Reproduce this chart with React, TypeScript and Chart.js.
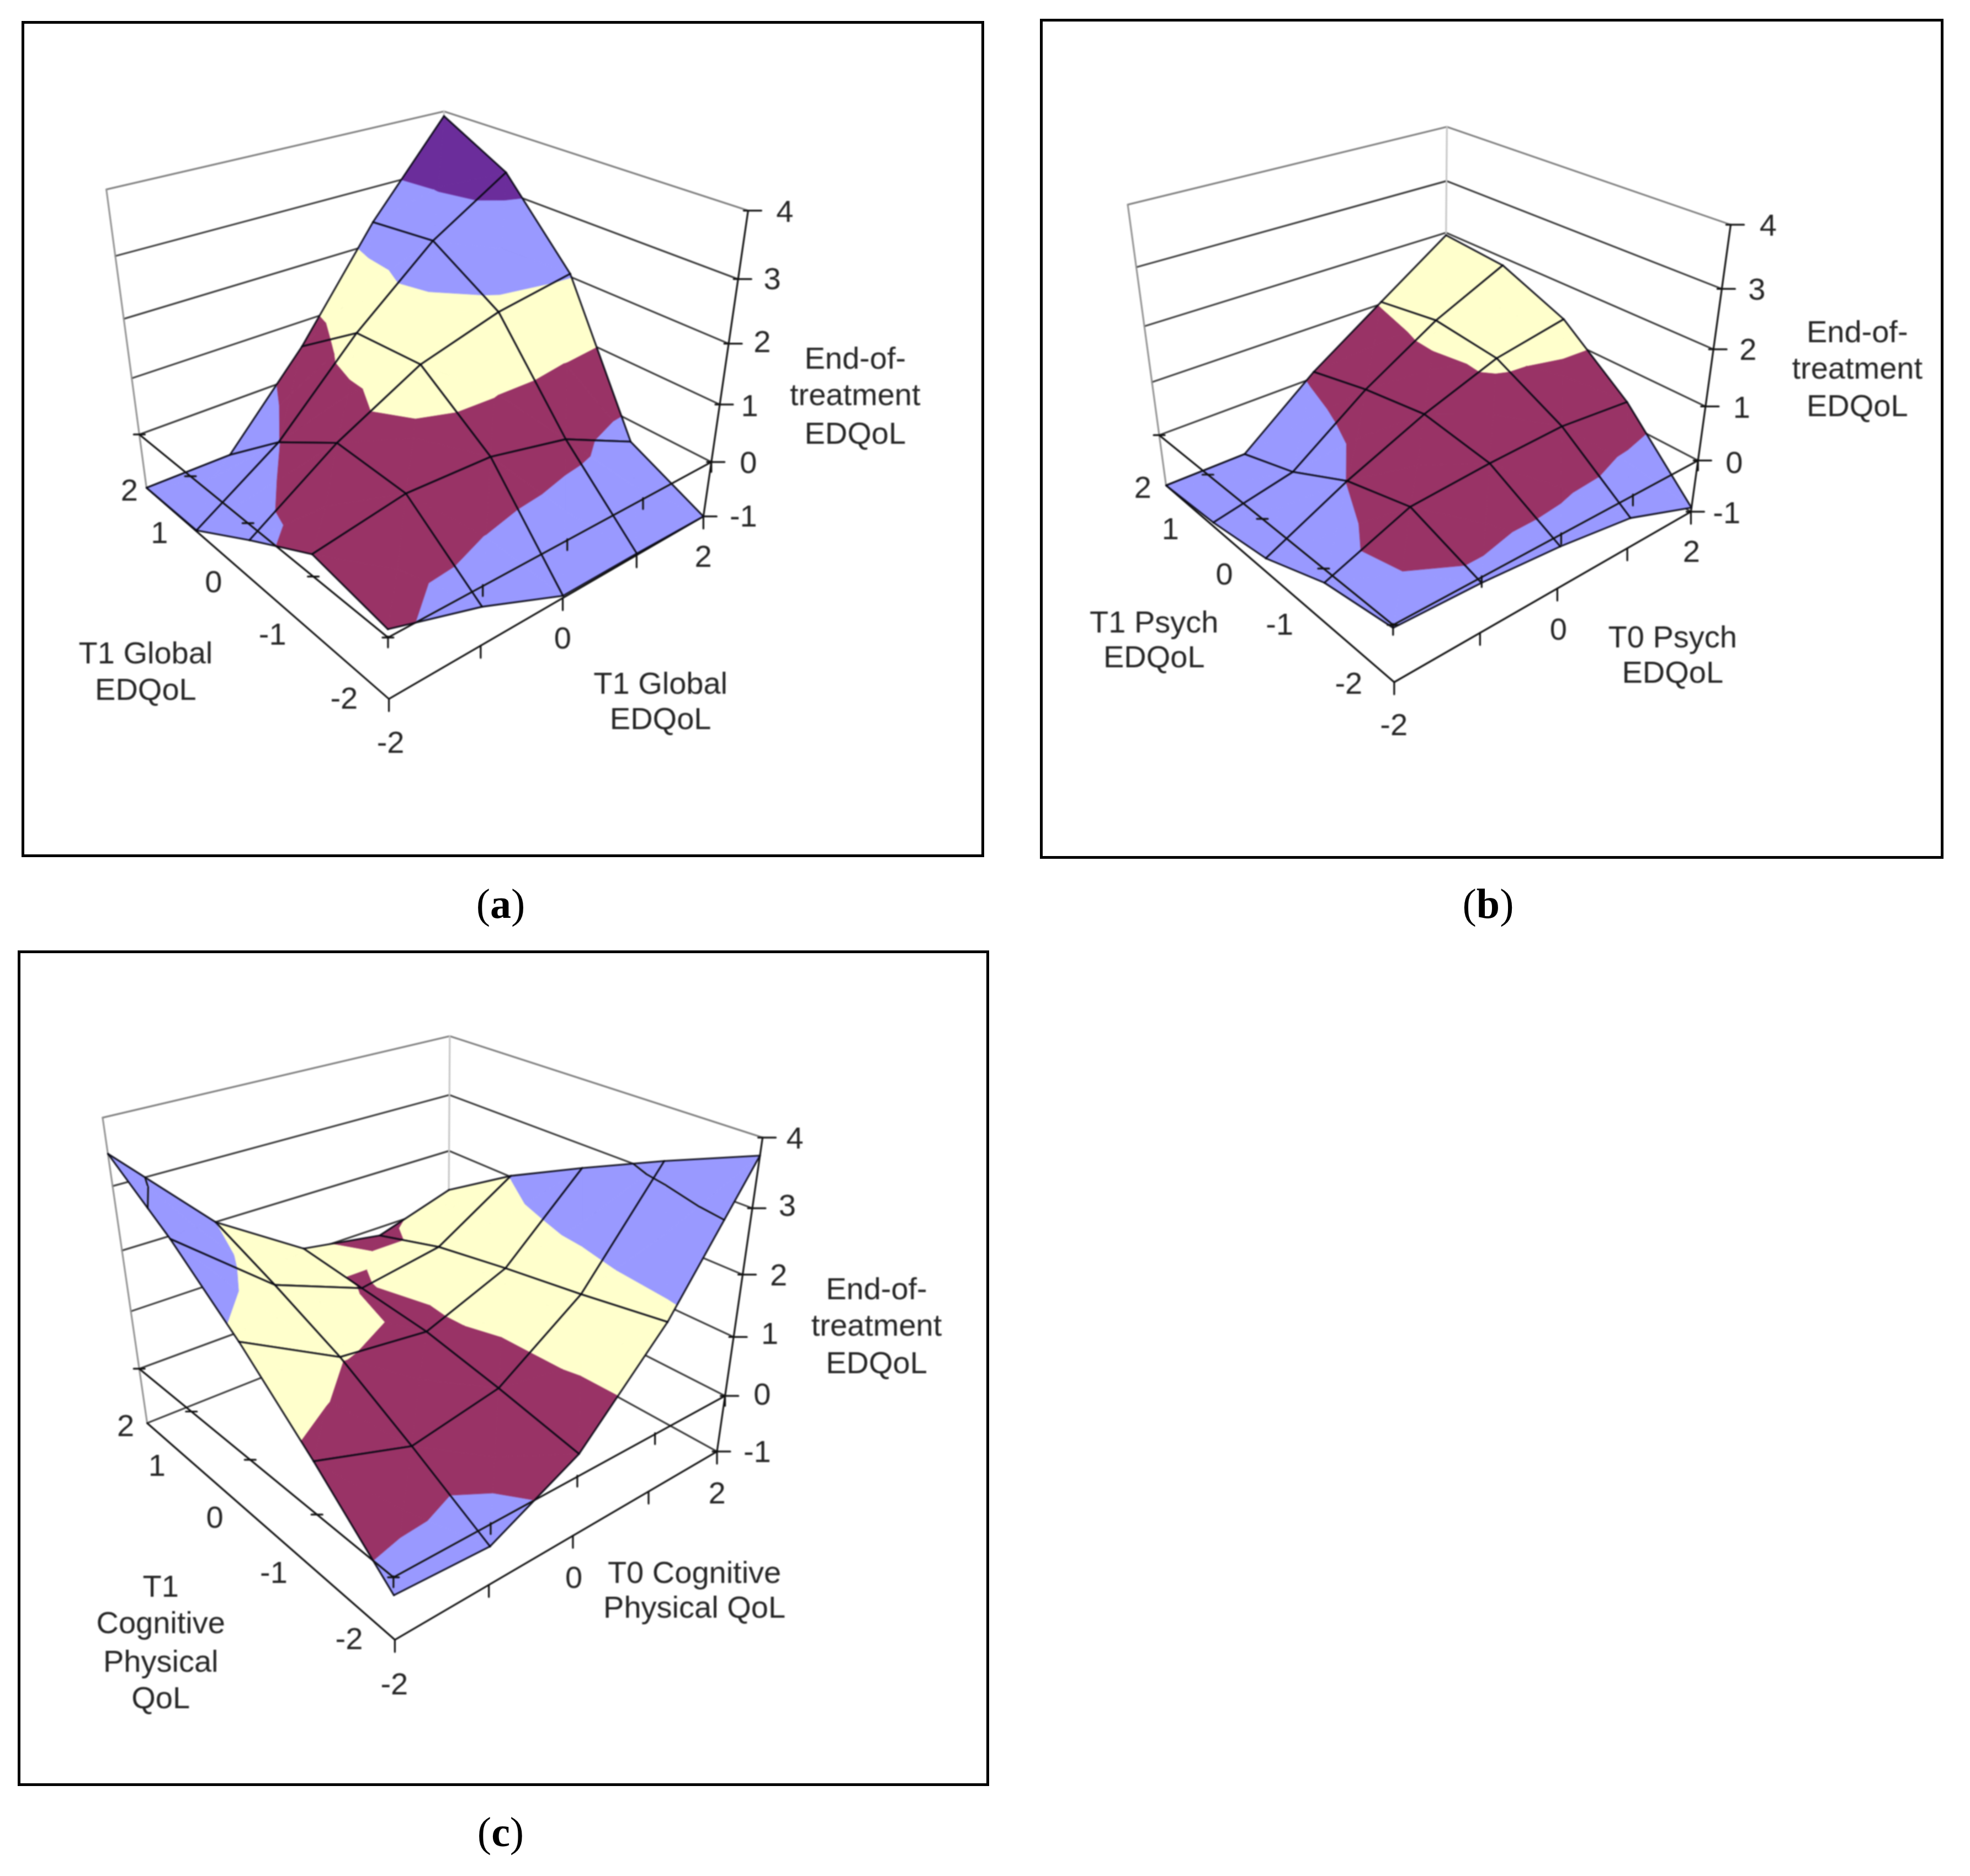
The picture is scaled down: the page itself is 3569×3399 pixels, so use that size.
import React, { useEffect, useRef } from 'react';
import { Chart, registerables } from 'chart.js';
Chart.register(...registerables);

// ---------- data: surface heights, rows = y-axis category, columns = x-axis category ----------
const categoryValues = [-2, -1, 0, 1, 2];
const heightLevels = [-1, 0, 1, 2, 3, 4];

const globalHeights = [
  [0.13, -0.34, -0.96, -0.97, -1],
  [0.36, 0.63, 0.59, 0.28, -0.37],
  [-0.29, 0.7, 1.45, 1.84, 2.05],
  [-0.98, -0.02, 1.38, 2.53, 3.33],
  [-1, -1, 0.54, 2.39, 3.92],
];
const psychHeights = [
  [-0.05, -0.1, -0.22, -0.42, -0.92],
  [-0.25, 0.35, 0.46, 0.52, 0.4],
  [-0.73, 0.01, 0.63, 1.12, 1.36],
  [-0.92, -0.6, 0.42, 1.24, 1.85],
  [-1, -1, 0.12, 1.04, 1.95],
];
const cognitiveHeights = [
  [-0.28, -0.36, 0.37, 1.8, 3.75],
  [0.83, 0.36, 0.64, 1.59, 3.21],
  [1.85, 1.03, 0.87, 1.41, 2.63],
  [2.74, 1.54, 0.97, 1.2, 2.02],
  [3.48, 2.0, 1.08, 0.85, 1.27],
];

const zTickLabels = ['-1', '0', '1', '2', '3', '4'];
const leftTickLabels = ['-2', '-1', '0', '1', '2'];
const rightTickLabels = ['-2', '0', '2'];
const zTitle = ['End-of-', 'treatment', 'EDQoL'];
const titleALeft = ['T1 Global', 'EDQoL'];
const titleARight = ['T1 Global', 'EDQoL'];
const titleBLeft = ['T1 Psych', 'EDQoL'];
const titleBRight = ['T0 Psych', 'EDQoL'];
const titleCLeft = ['T1', 'Cognitive', 'Physical', 'QoL'];
const titleCRight = ['T0 Cognitive', 'Physical QoL'];

// ---------- styles and layout ----------
const PERI = '#9999FF', MAROON = '#993366', CREAM = '#FFFFCC', PURPLE = '#6B2D9B';
const S = 2.275;
const TEXT_DROP = 4;
type XY = [number, number];
const at = (list: XY[]): XY[] => list.map(([x, y]) => [x * S, y * S + TEXT_DROP]);

interface PanelSpec {
  frame: { l: number; t: number; r: number; b: number };
  heights: number[][];
  bands: string[];
  contours: number[];
  corners: XY[]; // floor 00,10,01,11 then top 00,10,01,11
  texts: { text: string; pos: XY }[];
}
const place = (labels: string[], pos: XY[]) => labels.map((text, k) => ({ text, pos: at([pos[k]])[0] }));

// the two box corners hidden behind the surface count for less when fitting the box
const cornerWeights = [1, 1, 1, 0.35, 0.1, 1, 1, 1];

const panels: PanelSpec[] = [
  {
    frame: { l: 39, t: 38, r: 1783, b: 1553 },
    heights: globalHeights,
    bands: [PERI, MAROON, CREAM, PERI, PURPLE],
    contours: [],
    corners: [[704.6, 1266.4], [1274.2, 935.5], [265.1, 883.6], [801.6, 676.3], [696.3, 680.3], [1355.5, 381.3], [193, 343], [804, 201.8]],
    texts: [
      ...place(zTickLabels, [[592, 411], [596, 368], [597, 323], [607, 272], [615, 222], [625, 168]]),
      ...place(leftTickLabels, [[274, 556], [217, 505], [170, 463], [127, 424], [103, 390]]),
      ...place(rightTickLabels, [[311, 591], [448, 508], [560, 443]]),
      ...place(titleALeft, [[116, 520], [116, 549]]),
      ...place(titleARight, [[526, 544], [526, 572]]),
      ...place(zTitle, [[681, 285], [681, 314], [681, 345]]),
    ],
  },
  {
    frame: { l: 1884, t: 34, r: 3521, b: 1556 },
    heights: psychHeights,
    bands: [PERI, MAROON, CREAM, PERI, PURPLE],
    contours: [],
    corners: [[2524.8, 1235.9], [3063.8, 926], [2112.7, 880.1], [2620.2, 681.2], [2518.2, 698.7], [3136, 408], [2043.9, 369.7], [2620.2, 229.7]],
    texts: [
      ...place(zTickLabels, [[1375, 408], [1381, 368], [1387, 324], [1392, 278], [1399, 230], [1408, 179]]),
      ...place(leftTickLabels, [[1074, 544], [1019, 497], [975, 457], [932, 421], [910, 388]]),
      ...place(rightTickLabels, [[1110, 577], [1241, 501], [1347, 439]]),
      ...place(titleBLeft, [[919, 495], [919, 523]]),
      ...place(titleBRight, [[1332, 507], [1332, 535]]),
      ...place(zTitle, [[1479, 264], [1479, 293], [1479, 323]]),
    ],
  },
  {
    frame: { l: 32, t: 1722, r: 1792, b: 3236 },
    heights: cognitiveHeights,
    bands: [PERI, MAROON, CREAM, PERI, PERI],
    contours: [3],
    corners: [[714.6, 2970.4], [1299.1, 2629.9], [266.8, 2579.7], [814, 2356.4], [706.3, 2351.6], [1382.1, 2061.3], [186.4, 2023.8], [814, 1877.9]],
    texts: [
      ...place(zTickLabels, [[603, 1156], [607, 1110], [613, 1062], [620, 1015], [627, 960], [633, 906]]),
      ...place(leftTickLabels, [[278, 1305], [218, 1252], [171, 1208], [125, 1167], [100, 1135]]),
      ...place(rightTickLabels, [[314, 1341], [457, 1256], [571, 1189]]),
      ...place(titleCLeft, [[128, 1263], [128, 1292], [128, 1323], [128, 1352]]),
      ...place(titleCRight, [[553, 1252], [553, 1280]]),
      ...place(zTitle, [[698, 1026], [698, 1055], [698, 1085]]),
    ],
  },
];

const captions = [
  { id: 'a', x: 907, y: 1644 },
  { id: 'b', x: 2696, y: 1644 },
  { id: 'c', x: 907, y: 3326 },
];

// ---------- projection of the 3-D box onto the chart's x/y scales ----------
function fitProjection(corners: XY[]) {
  const lo = categoryValues[0], hi = categoryValues[4];
  const zLo = heightLevels[0], zHi = heightLevels[5];
  const world = [
    [lo, lo, zLo], [hi, lo, zLo], [lo, hi, zLo], [hi, hi, zLo],
    [lo, lo, zHi], [hi, lo, zHi], [lo, hi, zHi], [hi, hi, zHi],
  ];
  const rows: number[][] = [];
  const rhs: number[] = [];
  world.forEach(([u, v, z], k) => {
    const x = corners[k][0] / 1000, y = corners[k][1] / 1000;
    const w = cornerWeights[k];
    rows.push([u, v, z, 1, 0, 0, 0, 0, -u * x, -v * x, -z * x].map((e) => e * w)); rhs.push(x * w);
    rows.push([0, 0, 0, 0, u, v, z, 1, -u * y, -v * y, -z * y].map((e) => e * w)); rhs.push(y * w);
  });
  const n = 11;
  const M: number[][] = [];
  for (let a = 0; a < n; a++) {
    const row = new Array(n + 1).fill(0);
    for (let b = 0; b < n; b++) rows.forEach((r) => { row[b] += r[a] * r[b]; });
    rows.forEach((r, k) => { row[n] += r[a] * rhs[k]; });
    M.push(row);
  }
  for (let c = 0; c < n; c++) {
    let p = c;
    for (let r = c + 1; r < n; r++) if (Math.abs(M[r][c]) > Math.abs(M[p][c])) p = r;
    [M[c], M[p]] = [M[p], M[c]];
    for (let r = 0; r < n; r++) {
      if (r === c) continue;
      const f = M[r][c] / M[c][c];
      for (let k = c; k <= n; k++) M[r][k] -= f * M[c][k];
    }
  }
  const h = M.map((r, i) => r[n] / r[i]);
  return (u: number, v: number, z: number) => {
    const w = h[8] * u + h[9] * v + h[10] * z + 1;
    return {
      x: (1000 * (h[0] * u + h[1] * v + h[2] * z + h[3])) / w,
      y: (1000 * (h[4] * u + h[5] * v + h[6] * z + h[7])) / w,
    };
  };
}

type V = { u: number; v: number; z: number };
const mix = (a: V, b: V, t: number): V => ({ u: a.u + (b.u - a.u) * t, v: a.v + (b.v - a.v) * t, z: a.z + (b.z - a.z) * t });

function clipPoly(poly: V[], level: number, keepAbove: boolean): V[] {
  const out: V[] = [];
  const inside = (p: V) => (keepAbove ? p.z >= level : p.z <= level);
  poly.forEach((p, k) => {
    const q = poly[(k + 1) % poly.length];
    if (inside(p)) out.push(p);
    if (inside(p) !== inside(q)) out.push(mix(p, q, (level - p.z) / (q.z - p.z)));
  });
  return out;
}
function clipSeg(a: V, b: V, level: number, keepAbove: boolean): [V, V] | null {
  const ia = keepAbove ? a.z >= level : a.z <= level;
  const ib = keepAbove ? b.z >= level : b.z <= level;
  if (ia && ib) return [a, b];
  if (!ia && !ib) return null;
  const m = mix(a, b, (level - a.z) / (b.z - a.z));
  return ia ? [a, m] : [m, b];
}

function buildDatasets(p: PanelSpec) {
  const proj = fitProjection(p.corners);
  const out: any[] = [];
  const line = (pts: { x: number; y: number }[], color: string, width: number) =>
    out.push({ data: pts, showLine: true, fill: false, borderColor: color, borderWidth: width, pointRadius: 0, tension: 0, borderCapStyle: 'round' });
  const poly = (vs: V[], color: string) => {
    const pts = vs.map((q) => proj(q.u, q.v, q.z));
    pts.push(pts[0]);
    out.push({ data: pts, showLine: true, fill: 'shape', backgroundColor: color, borderColor: color, borderWidth: 1, pointRadius: 0, tension: 0, borderJoinStyle: 'round' });
  };
  const lo = categoryValues[0], hi = categoryValues[4];
  const zLo = heightLevels[0], zHi = heightLevels[5];

  // back walls
  heightLevels.forEach((z) => {
    const c = z === zHi ? '#7a7a7a' : '#333';
    line([proj(lo, hi, z), proj(hi, hi, z), proj(hi, lo, z)], c, 3);
  });
  line([proj(lo, hi, zLo), proj(lo, hi, zHi)], '#8f8f8f', 3);
  line([proj(hi, hi, zLo), proj(hi, hi, zHi)], '#c4c4c4', 3);
  line([proj(hi, lo, zLo), proj(hi, lo, zHi)], '#111', 3.2);
  heightLevels.forEach((z) => {
    const q = proj(hi, lo, z);
    line([{ x: q.x - 8, y: q.y }, { x: q.x + 24, y: q.y }], '#111', 3.2);
  });
  // floor front edges and ticks
  line([proj(lo, hi, zLo), proj(lo, lo, zLo), proj(hi, lo, zLo)], '#111', 3.2);
  categoryValues.forEach((c) => {
    const q = proj(c, lo, zLo);
    line([q, { x: q.x, y: q.y + 22 }], '#111', 3.2);
  });

  const H = p.heights;
  const cells: [number, number][] = [];
  for (let j = 3; j >= 0; j--) for (let i = 3; i >= 0; i--) cells.push([i, j]);
  cells.sort((a, b) => b[0] + b[1] - (a[0] + a[1]));

  const drawPass = (belowZero: boolean) => {
    cells.forEach(([i, j]) => {
      const node = (a: number, b: number): V => ({ u: categoryValues[a], v: categoryValues[b], z: H[b][a] });
      const n = [node(i, j), node(i + 1, j), node(i + 1, j + 1), node(i, j + 1)];
      const centre: V = {
        u: (n[0].u + n[2].u) / 2,
        v: (n[0].v + n[2].v) / 2,
        z: (n[0].z + n[1].z + n[2].z + n[3].z) / 4,
      };
      for (let e = 0; e < 4; e++) {
        const tri = [n[e], n[(e + 1) % 4], centre];
        p.bands.forEach((color, b) => {
          if (belowZero !== (b === 0)) return;
          let part = clipPoly(tri, heightLevels[b], true);
          if (part.length) part = clipPoly(part, heightLevels[b + 1], false);
          if (part.length >= 3) poly(part, color);
        });
        // contour lines between bands
        p.contours.forEach((level) => {
          if (belowZero) return;
          const hits: V[] = [];
          [[tri[0], tri[1]], [tri[1], tri[2]], [tri[2], tri[0]]].forEach(([a, b]) => {
            if ((a.z - level) * (b.z - level) < 0) hits.push(mix(a, b, (level - a.z) / (b.z - a.z)));
          });
          if (hits.length === 2) line(hits.map((q) => proj(q.u, q.v, q.z)), '#111', 3);
        });
      }
      for (let e = 0; e < 4; e++) {
        const seg = clipSeg(n[e], n[(e + 1) % 4], 0, !belowZero);
        if (seg) line(seg.map((q) => proj(q.u, q.v, q.z)), 'rgba(8,8,20,0.92)', 3.1);
      }
    });
  };

  drawPass(true);
  // the axes cross at height 0
  line([proj(lo, hi, 0), proj(lo, lo, 0), proj(hi, lo, 0)], '#111', 3.2);
  categoryValues.forEach((c) => {
    const q = proj(c, lo, 0);
    line([{ x: q.x, y: q.y - 2 }, { x: q.x, y: q.y + 18 }], '#111', 3.2);
    const r = proj(lo, c, 0);
    line([{ x: r.x - 10, y: r.y }, { x: r.x + 10, y: r.y }], '#111', 3.2);
  });
  drawPass(false);
  // Chart.js paints the last dataset first
  return out.reverse();
}

function Panel({ spec }: { spec: PanelSpec }) {
  const ref = useRef<HTMLCanvasElement | null>(null);
  const { l, t, r, b } = spec.frame;
  useEffect(() => {
    const textPlugin = {
      id: 'panelText',
      afterDraw(chart: any) {
        const { ctx, scales } = chart;
        ctx.save();
        ctx.font = '56px "Liberation Sans", Arial, sans-serif';
        ctx.fillStyle = '#262626';
        ctx.textAlign = 'center';
        ctx.textBaseline = 'middle';
        spec.texts.forEach(({ text, pos }) => {
          ctx.fillText(text, scales.x.getPixelForValue(pos[0]), scales.y.getPixelForValue(pos[1]));
        });
        ctx.restore();
      },
    };
    const chart = new Chart(ref.current as HTMLCanvasElement, {
      type: 'scatter',
      data: { datasets: buildDatasets(spec) },
      options: {
        animation: false,
        responsive: false,
        devicePixelRatio: 1,
        events: [],
        layout: { padding: 0 },
        plugins: { legend: { display: false }, tooltip: { enabled: false }, title: { display: false } },
        scales: {
          x: { type: 'linear', display: false, min: l, max: r },
          y: { type: 'linear', display: false, min: t, max: b, reverse: true },
        },
      },
      plugins: [textPlugin],
    } as any);
    return () => chart.destroy();
  }, []);
  return (
    <div style={{ position: 'absolute', left: l, top: t, width: r - l, height: b - t }}>
      <canvas ref={ref} width={r - l} height={b - t} style={{ position: 'absolute', left: 0, top: 0, filter: 'blur(0.8px)' }} />
      <div style={{ position: 'absolute', inset: 0, boxSizing: 'border-box', border: '5px solid #000' }} />
    </div>
  );
}

export default function App() {
  return (
    <div style={{ position: 'absolute', left: 0, top: 0, width: 3569, height: 3399, background: '#fff', overflow: 'hidden' }}>
      {panels.map((p, k) => <Panel key={k} spec={p} />)}
      {captions.map((c) => (
        <div key={c.id} style={{ position: 'absolute', left: c.x - 100, top: c.y - 50, width: 200, height: 100, lineHeight: '100px', textAlign: 'center', font: '76px "Liberation Serif", serif', color: '#000' }}>
          (<b>{c.id}</b>)
        </div>
      ))}
    </div>
  );
}
